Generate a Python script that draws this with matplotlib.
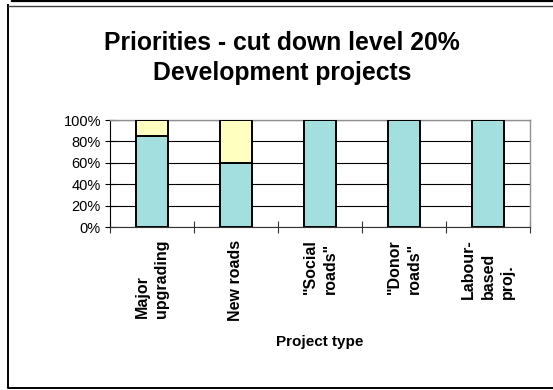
import numpy as np
import matplotlib
matplotlib.use("Agg")
import matplotlib.pyplot as plt
from matplotlib.lines import Line2D

plt.rcParams['font.family'] = ['Liberation Sans', 'DejaVu Sans']

# Share of each project type kept / cut at the 20% cut-down level
categories = ['Major\nupgrading', 'New roads', '"Social\nroads"', '"Donor\nroads"', 'Labour-\nbased\nproj.']
kept = [85, 60, 100, 100, 100]
cut = [15, 40, 0, 0, 0]
yticks = [0, 20, 40, 60, 80, 100]

W, H = 553, 390
fig = plt.figure(figsize=(W / 100, H / 100), dpi=100)
ax = fig.add_axes([110 / W, 1 - 227 / H, 420 / W, 107 / H])

x = np.arange(len(categories))
ax.bar(x, kept, width=0.39, color='#a4dfe0', edgecolor='black', linewidth=1.4, zorder=3)
ax.bar(x, cut, width=0.39, bottom=kept, color='#ffffc0', edgecolor='black', linewidth=1.4, zorder=3)

ax.set_xlim(-0.5, len(categories) - 0.5)
ax.set_ylim(0, 100)
ax.set_yticks(yticks)
ax.set_yticklabels(['%d%%' % v for v in yticks], fontsize=10.5)
ax.yaxis.grid(True, color='black', linewidth=0.8, zorder=0)

# ticks sit between the categories, labels at the centres
ax.set_xticks(np.arange(len(categories) + 1) - 0.5)
ax.set_xticklabels([])
ax.set_xticks(x, minor=True)
ax.set_xticklabels(categories, minor=True, rotation=90, fontsize=11.5, fontweight='bold',
                   va='top', ha='center', multialignment='left', linespacing=1.4)
ax.tick_params(axis='x', which='minor', length=0, pad=9)
ax.tick_params(axis='x', which='major', direction='inout', length=8, width=0.8, color='#333333')
ax.tick_params(axis='y', direction='inout', length=7, width=0.8, pad=3)

for side in ['top', 'right']:
    ax.spines[side].set_color('#909090')
    ax.spines[side].set_linewidth(1.0)
ax.spines['left'].set_color('black')
ax.spines['bottom'].set_color('#333333')

fig.text(282 / W, 1 - 58 / H, 'Priorities - cut down level 20%\nDevelopment projects',
         ha='center', va='center', fontsize=17.8, fontweight='bold', linespacing=1.3)
fig.text(320 / W, 1 - 342 / H, 'Project type', ha='center', va='center',
         fontsize=11, fontweight='bold')

# chart frame
fig.add_artist(Line2D([7.5 / W, 7.5 / W, 1], [1 - 5 / H, 1 - 388 / H, 1 - 388 / H],
                      color='black', linewidth=1.4))
fig.add_artist(Line2D([7.5 / W, 1], [1 - 5.5 / H, 1 - 5.5 / H], color='#404040', linewidth=1.0))
fig.add_artist(Line2D([12 / W, 1], [1 - 1 / H, 1 - 1 / H], color='black', linewidth=1.6))

fig.savefig('out.png', dpi=100)
